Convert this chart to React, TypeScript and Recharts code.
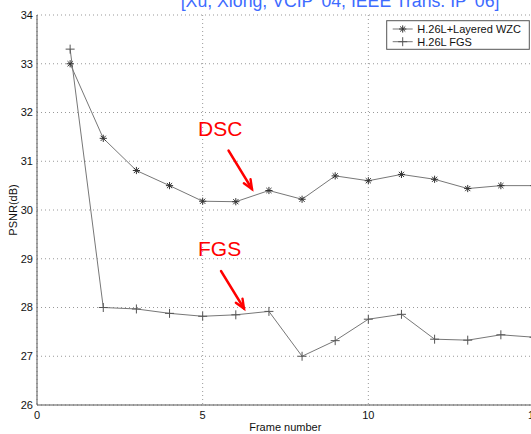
import React from "react"
import { LineChart, Line, XAxis, YAxis, CartesianGrid } from "recharts"

const frames = [1, 2, 3, 4, 5, 6, 7, 8, 9, 10, 11, 12, 13, 14, 15]
const wzcPsnr = [33.0, 31.47, 30.81, 30.5, 30.18, 30.17, 30.4, 30.22, 30.7, 30.6, 30.73, 30.63, 30.44, 30.5, 30.5]
const fgsPsnr = [33.3, 28.0, 27.97, 27.88, 27.82, 27.85, 27.92, 27.0, 27.32, 27.76, 27.86, 27.35, 27.33, 27.44, 27.39]
const xTicks = [0, 5, 10, 15]
const yTicks = [26, 27, 28, 29, 30, 31, 32, 33, 34]

const seriesNames = ["H.26L+Layered WZC", "H.26L FGS"]

const data = frames.map((f, i) => ({ frame: f, wzc: wzcPsnr[i], fgs: fgsPsnr[i] }))

const FONT = "'Liberation Sans', Arial, Helvetica, sans-serif"
const AXIS = "#555"
const LINE = "#777"

const Star = ({ cx, cy }: any) => {
  if (cx == null || cy == null) return null
  const r = 3.6
  const d = r * 0.72
  return (
    <g stroke="#333" strokeWidth={1} fill="none">
      <line x1={cx - r} y1={cy} x2={cx + r} y2={cy} />
      <line x1={cx} y1={cy - r} x2={cx} y2={cy + r} />
      <line x1={cx - d} y1={cy - d} x2={cx + d} y2={cy + d} />
      <line x1={cx - d} y1={cy + d} x2={cx + d} y2={cy - d} />
    </g>
  )
}

const Plus = ({ cx, cy }: any) => {
  if (cx == null || cy == null) return null
  const r = 4.5
  return (
    <g stroke="#555" strokeWidth={1} fill="none">
      <line x1={cx - r} y1={cy} x2={cx + r} y2={cy} />
      <line x1={cx} y1={cy - r} x2={cx} y2={cy + r} />
    </g>
  )
}

function Arrow({ x1, y1, x2, y2 }: { x1: number; y1: number; x2: number; y2: number }) {
  const a = Math.atan2(y2 - y1, x2 - x1)
  const len = 10
  const spread = 0.4
  const p1 = [x2 - len * Math.cos(a - spread), y2 - len * Math.sin(a - spread)]
  const p2 = [x2 - len * Math.cos(a + spread), y2 - len * Math.sin(a + spread)]
  return (
    <g stroke="#ff0000" strokeWidth={2.4} fill="none" strokeLinecap="round">
      <line x1={x1} y1={y1} x2={x2} y2={y2} />
      <polyline points={`${p1[0]},${p1[1]} ${x2},${y2} ${p2[0]},${p2[1]}`} />
    </g>
  )
}

function Overlay() {
  return (
    <svg width={531} height={434} style={{ position: "absolute", left: 0, top: 0, pointerEvents: "none" }}>
      <text x={180.7} y={7} fontFamily={FONT} fontSize={17.7} fill="#3d6bff">
        [Xu, Xiong, VCIP '04, IEEE Trans. IP '06]
      </text>
      <text x={285.3} y={431} textAnchor="middle" fontFamily={FONT} fontSize={11} fill="#111">
        Frame number
      </text>
      <text
        x={0}
        y={0}
        transform="translate(16.5,210) rotate(-90)"
        textAnchor="middle"
        fontFamily={FONT}
        fontSize={11}
        fill="#111"
      >
        PSNR(dB)
      </text>

      <text x={198} y={136} fontFamily={FONT} fontSize={21} fill="#ff0000">DSC</text>
      <Arrow x1={228.5} y1={150.5} x2={252} y2={189} />
      <text x={198} y={256} fontFamily={FONT} fontSize={21} fill="#ff0000">FGS</text>
      <Arrow x1={221} y1={271} x2={244} y2={308.5} />

      <g>
        <rect x={386.7} y={20.7} width={142.6} height={28.6} fill="#fff" stroke={AXIS} strokeWidth={1} />
        <line x1={392.7} y1={29} x2={412.7} y2={29} stroke={LINE} />
        <Star cx={402.7} cy={29} />
        <text x={417.3} y={33} fontFamily={FONT} fontSize={11} fill="#111">{seriesNames[0]}</text>
        <line x1={392.7} y1={41.7} x2={412.7} y2={41.7} stroke={LINE} />
        <Plus cx={402.7} cy={41.7} />
        <text x={417.3} y={45.7} fontFamily={FONT} fontSize={11} fill="#111">{seriesNames[1]}</text>
      </g>
    </svg>
  )
}

export default function App() {
  return (
    <div style={{ position: "absolute", left: 0, top: 0, width: 531, height: 434, overflow: "hidden", background: "#fff" }}>
      <LineChart width={545} height={434} data={data} margin={{ top: 15, right: 11, left: 0, bottom: 0 }}>
        <CartesianGrid stroke="#999" strokeDasharray="1 3" />
        {/* inward tick marks, matlab style */}
        <XAxis xAxisId="tk" type="number" dataKey="frame" domain={[0, 15]} ticks={xTicks} orientation="bottom" mirror height={0} tick={false} axisLine={false} tickLine={{ stroke: AXIS }} tickSize={5} />
        <XAxis
          type="number"
          dataKey="frame"
          domain={[0, 15]}
          ticks={xTicks}
          height={29}
          tickLine={false}
          tickSize={0}
          tickMargin={6}
          axisLine={{ stroke: AXIS }}
          tick={{ fontFamily: FONT, fontSize: 11, fill: "#111" }}
        />
        <XAxis xAxisId="top" type="number" dataKey="frame" domain={[0, 15]} ticks={xTicks} orientation="top" mirror height={0} tick={false} axisLine={{ stroke: AXIS }} tickLine={{ stroke: AXIS }} tickSize={5} />
        <YAxis yAxisId="lt" type="number" domain={[26, 34]} ticks={yTicks} orientation="left" mirror width={0} tick={false} axisLine={false} tickLine={{ stroke: AXIS }} tickSize={5} />
        <YAxis
          type="number"
          domain={[26, 34]}
          ticks={yTicks}
          width={37}
          tickLine={false}
          tickSize={0}
          tickMargin={4}
          axisLine={{ stroke: AXIS }}
          tick={{ fontFamily: FONT, fontSize: 11, fill: "#111" }}
        />
        <YAxis yAxisId="rt" type="number" domain={[26, 34]} ticks={yTicks} orientation="right" mirror width={0} tick={false} axisLine={{ stroke: AXIS }} tickLine={{ stroke: AXIS }} tickSize={5} />
        <Line dataKey="wzc" name={seriesNames[0]} stroke={LINE} strokeWidth={1} dot={<Star />} isAnimationActive={false} />
        <Line dataKey="fgs" name={seriesNames[1]} stroke={LINE} strokeWidth={1} dot={<Plus />} isAnimationActive={false} />
      </LineChart>
      <Overlay />
    </div>
  )
}
